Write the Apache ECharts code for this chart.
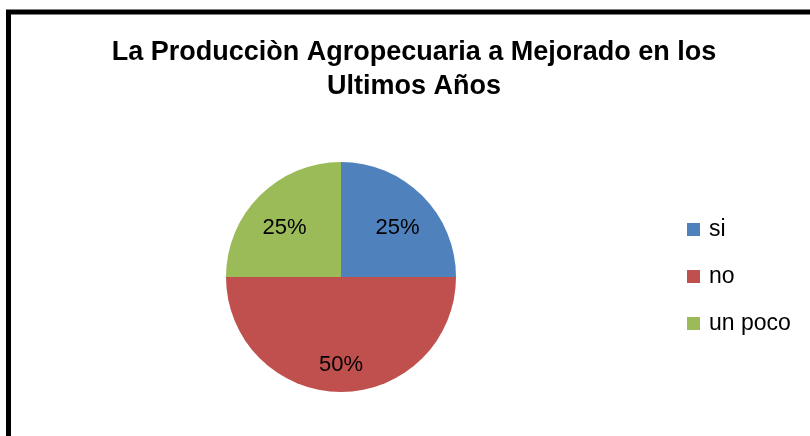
<!DOCTYPE html>
<html>
<head>
    <meta charset="UTF-8">
    <title>La Produccion Agropecuaria</title>
    <script type="text/javascript" src="https://cdn.jsdelivr.net/npm/echarts@6/dist/echarts.min.js"></script>
</head>
<body style="margin: 0; background-color: #ffffff;">
  <div id="pie" style="width:810px; height:436px;"></div>

  <script>
    // datos del grafico
    var categorias = ['si', 'no', 'un poco'];
    var porcentajes = [25, 50, 25];
    var colores = ['#4F81BD', '#C0504D', '#9BBB59'];

    var datos = categorias.map(function (c, i) {
        return { name: c, value: porcentajes[i], itemStyle: { color: colores[i] } };
    });

    var chart = echarts.init(document.getElementById('pie'), null, {renderer: 'canvas'});

    chart.setOption({
        animation: false,
        backgroundColor: '#ffffff',
        title: {
            text: 'La Producciòn Agropecuaria a Mejorado en los\nUltimos Años',
            left: 409,
            top: 31,
            textAlign: 'center',
            textStyle: {
                fontFamily: 'Liberation Sans',
                fontWeight: 'bold',
                fontSize: 27,
                lineHeight: 34,
                color: '#000'
            }
        },
        legend: {
            orient: 'vertical',
            left: 682,
            top: 213,
            itemWidth: 13,
            itemHeight: 13,
            itemGap: 24,
            icon: 'rect',
            data: categorias,
            textStyle: {
                fontFamily: 'Liberation Sans',
                fontSize: 23,
                color: '#000',
                padding: [0, 0, 0, 4]
            }
        },
        graphic: [{
            type: 'rect',
            shape: { x: 8.5, y: 12, width: 900, height: 600 },
            style: { fill: 'none', stroke: '#000', lineWidth: 5 },
            silent: true
        }],
        series: [{
            type: 'pie',
            center: [341, 277],
            radius: [0, 115],
            startAngle: 90,
            data: datos,
            label: { show: false },
            labelLine: { show: false },
            emphasis: { disabled: true }
        }, {
            // solo para las etiquetas de porcentaje
            type: 'pie',
            center: [341, 277],
            radius: [39, 115],
            startAngle: 90,
            silent: true,
            data: datos.map(function (d) { return { name: d.name, value: d.value }; }),
            itemStyle: { color: 'rgba(0,0,0,0)' },
            label: {
                show: true,
                position: 'inside',
                offset: [0, 8],
                formatter: '{d}%',
                fontFamily: 'Liberation Sans',
                fontSize: 22,
                color: '#000'
            },
            labelLine: { show: false },
            emphasis: { disabled: true }
        }]
    });
</script>

</body>
</html>
